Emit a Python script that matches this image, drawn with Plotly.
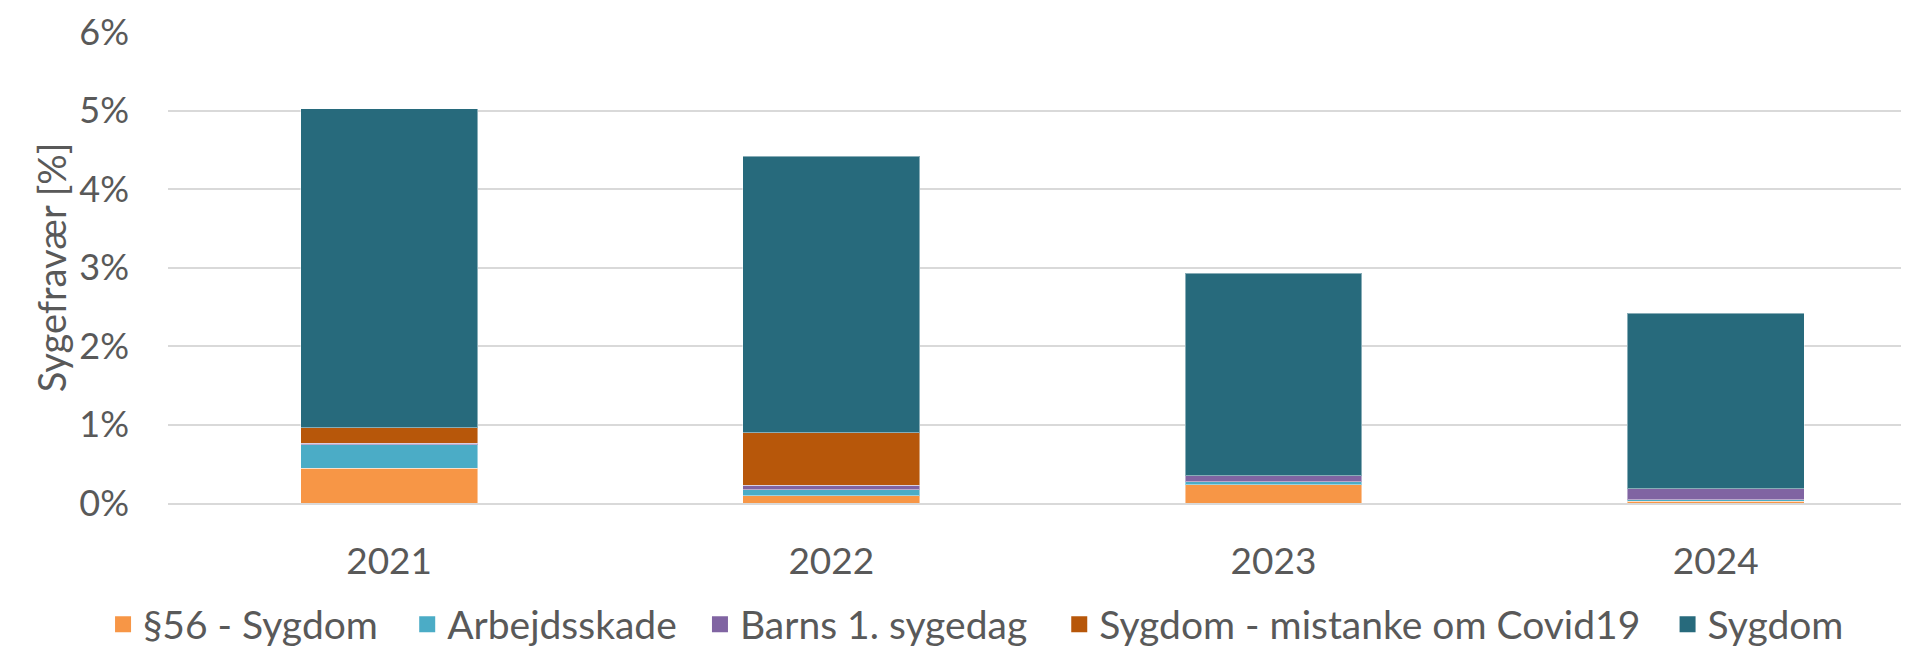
import plotly.graph_objects as go

years = ["2021", "2022", "2023", "2024"]
series_names = ["§56 - Sygdom", "Arbejdsskade", "Barns 1. sygedag", "Sygdom - mistanke om Covid19", "Sygdom"]
s56 = [0.44, 0.09, 0.235, 0.02]
arbejdsskade = [0.30, 0.08, 0.034, 0.02]
barns = [0.02, 0.055, 0.077, 0.14]
covid = [0.20, 0.67, 0.0, 0.0]
sygdom = [4.06, 3.525, 2.584, 2.24]
colors = ["#F79646", "#4BACC6", "#8064A2", "#B7570A", "#276A7C"]

values = [s56, arbejdsskade, barns, covid, sygdom]
FONT = "Lato"
TXT = "#595959"
legend_x = [0.050, 0.210, 0.364, 0.553, 0.873]

fig = go.Figure()
for name, vals, col in zip(series_names, values, colors):
    fig.add_trace(go.Bar(
        x=years, y=[v / 100 for v in vals], name=name, showlegend=False,
        marker=dict(color=col, line=dict(color="rgba(255,255,255,0.45)", width=1)),
        width=0.4,
    ))

legend_layout = {}
for i, (name, col, lx) in enumerate(zip(series_names, colors, legend_x)):
    key = "legend" if i == 0 else f"legend{i + 1}"
    fig.add_trace(go.Scatter(
        x=[None], y=[None], mode="markers", name=name, legend=key,
        marker=dict(symbol="square", size=21, color=col),
    ))
    legend_layout[key] = dict(
        orientation="h", x=lx, xref="container", xanchor="left",
        y=0.043, yref="container", yanchor="middle",
        font=dict(size=39, color=TXT), itemsizing="trace", itemwidth=30,
        bgcolor="rgba(0,0,0,0)",
    )

fig.update_layout(
    barmode="stack",
    width=1901, height=644,
    margin=dict(l=160, r=0, t=24, b=149, autoexpand=False),
    plot_bgcolor="white", paper_bgcolor="white",
    font=dict(family=FONT, color=TXT, size=36),
    showlegend=True,
    xaxis=dict(type="category", range=[-0.5, 3.437], showgrid=False,
               showline=True, linecolor="#d9d9d9", linewidth=1.5,
               ticks="", ticklabelstandoff=25, tickfont=dict(size=37, color=TXT)),
    yaxis=dict(range=[0, 0.06], dtick=0.01, tickformat=".0%",
               showgrid=True, gridcolor="#d9d9d9", gridwidth=1.5,
               zeroline=False, ticks="", ticklabelstandoff=38,
               tickfont=dict(size=36, color=TXT),
               title=dict(text="Sygefravær [%]", standoff=0, font=dict(size=38, color=TXT))),
    **legend_layout,
)

fig.write_html("out.html")
